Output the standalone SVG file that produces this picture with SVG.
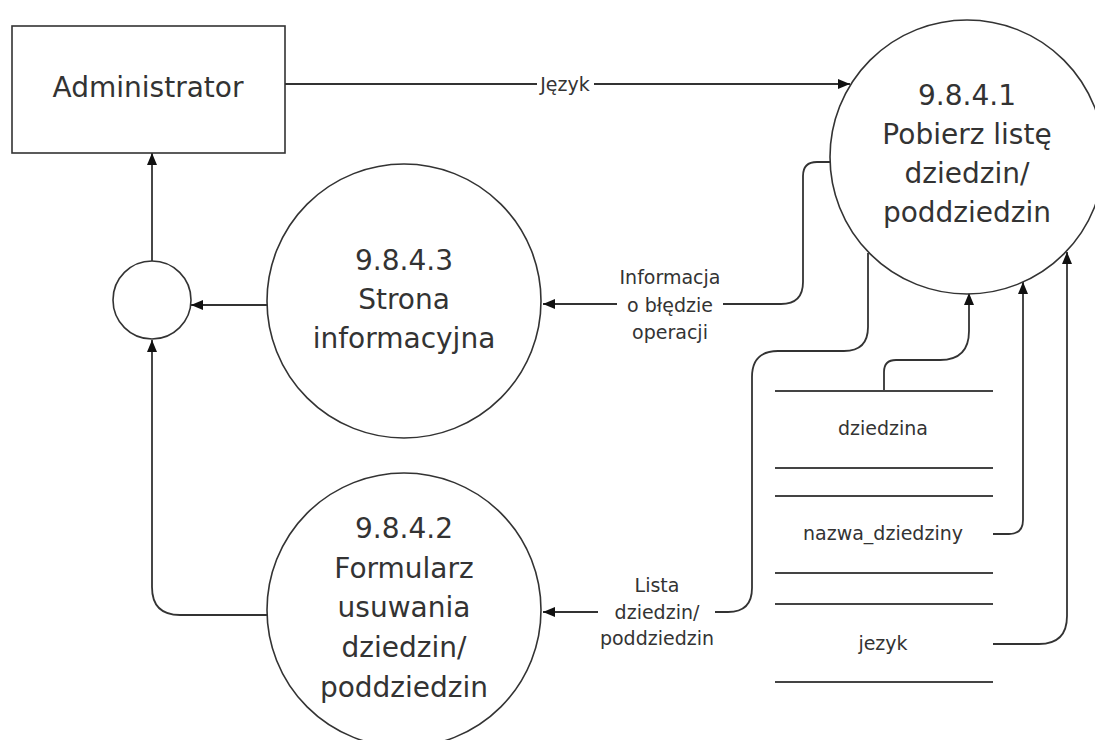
<svg xmlns="http://www.w3.org/2000/svg" width="1095" height="740" viewBox="0 0 1095 740">
<style>
.shape{fill:#fff;stroke:#333;stroke-width:1.6}
.ln{fill:none;stroke:#333;stroke-width:1.8}
.big{font-family:"DejaVu Sans","Liberation Sans",sans-serif;font-size:28px;fill:#333;text-anchor:middle;dominant-baseline:central}
.sm{font-family:"DejaVu Sans","Liberation Sans",sans-serif;font-size:19px;fill:#333;text-anchor:middle;dominant-baseline:central}
.store{stroke:#444;stroke-width:2.2}
</style>
<defs>
<marker id="arr" markerUnits="userSpaceOnUse" markerWidth="12" markerHeight="12" viewBox="0 0 12 12" refX="12" refY="6" orient="auto">
<path d="M0,1 L12,6 L0,11 Z" fill="#111"/>
</marker>
</defs>
<rect width="1095" height="740" fill="#fff"/>

<g id="connectors">
<path class="ln" d="M285,84 H537"/>
<path class="ln" d="M594,84 H850" marker-end="url(#arr)"/>
<text class="sm" x="565" y="84">Język</text>

<path class="ln" d="M831,162 H817 Q803,162 803,176 V282 Q803,304 781,304 H723"/>
<path class="ln" d="M617,304 H543" marker-end="url(#arr)"/>
<text class="sm" x="670" y="277">Informacja</text>
<text class="sm" x="670" y="305">o błędzie</text>
<text class="sm" x="670" y="332">operacji</text>

<path class="ln" d="M868,253 V327 Q868,351 844,351 H778 Q752,351 752,377 V588 Q752,612 728,612 H715"/>
<path class="ln" d="M598,612 H543" marker-end="url(#arr)"/>
<text class="sm" x="657" y="585">Lista</text>
<text class="sm" x="657" y="612">dziedzin/</text>
<text class="sm" x="657" y="638">poddziedzin</text>

<path class="ln" d="M884,391 V372 Q884,360 896,360 H940 Q969,360 969,331 V293" marker-end="url(#arr)"/>
<path class="ln" d="M993,534 H1009 Q1023,534 1023,520 V282" marker-end="url(#arr)"/>
<path class="ln" d="M993,644 H1039 Q1067,644 1067,616 V252" marker-end="url(#arr)"/>

<path class="ln" d="M152,261 V153" marker-end="url(#arr)"/>
<path class="ln" d="M267,305 H191" marker-end="url(#arr)"/>
<path class="ln" d="M268,615 H180 Q152,615 152,587 V340" marker-end="url(#arr)"/>
</g>

<g id="administrator">
<rect class="shape" x="12" y="26" width="273" height="127"/>
<text class="big" x="148" y="87">Administrator</text>
</g>

<g id="p9841">
<circle class="shape" cx="967" cy="157" r="137"/>
<text class="big" x="967" y="95">9.8.4.1</text>
<text class="big" x="967" y="134">Pobierz listę</text>
<text class="big" x="967" y="173">dziedzin/</text>
<text class="big" x="967" y="212">poddziedzin</text>
</g>

<g id="p9843">
<circle class="shape" cx="404" cy="301" r="137"/>
<text class="big" x="404" y="260">9.8.4.3</text>
<text class="big" x="404" y="299">Strona</text>
<text class="big" x="404" y="338">informacyjna</text>
</g>

<g id="p9842">
<circle class="shape" cx="404" cy="610" r="137"/>
<text class="big" x="404" y="528">9.8.4.2</text>
<text class="big" x="404" y="568">Formularz</text>
<text class="big" x="404" y="607">usuwania</text>
<text class="big" x="404" y="647">dziedzin/</text>
<text class="big" x="404" y="687">poddziedzin</text>
</g>

<g id="junction">
<circle class="shape" cx="152" cy="300" r="39"/>
</g>

<g id="store-dziedzina">
<line class="store" x1="775" y1="391" x2="993" y2="391"/>
<line class="store" x1="775" y1="468" x2="993" y2="468"/>
<text class="sm" x="883" y="428">dziedzina</text>
</g>
<g id="store-nazwa">
<line class="store" x1="775" y1="496" x2="993" y2="496"/>
<line class="store" x1="775" y1="573" x2="993" y2="573"/>
<text class="sm" x="883" y="533">nazwa_dziedziny</text>
</g>
<g id="store-jezyk">
<line class="store" x1="775" y1="604" x2="993" y2="604"/>
<line class="store" x1="775" y1="682" x2="993" y2="682"/>
<text class="sm" x="883" y="643">jezyk</text>
</g>
</svg>
